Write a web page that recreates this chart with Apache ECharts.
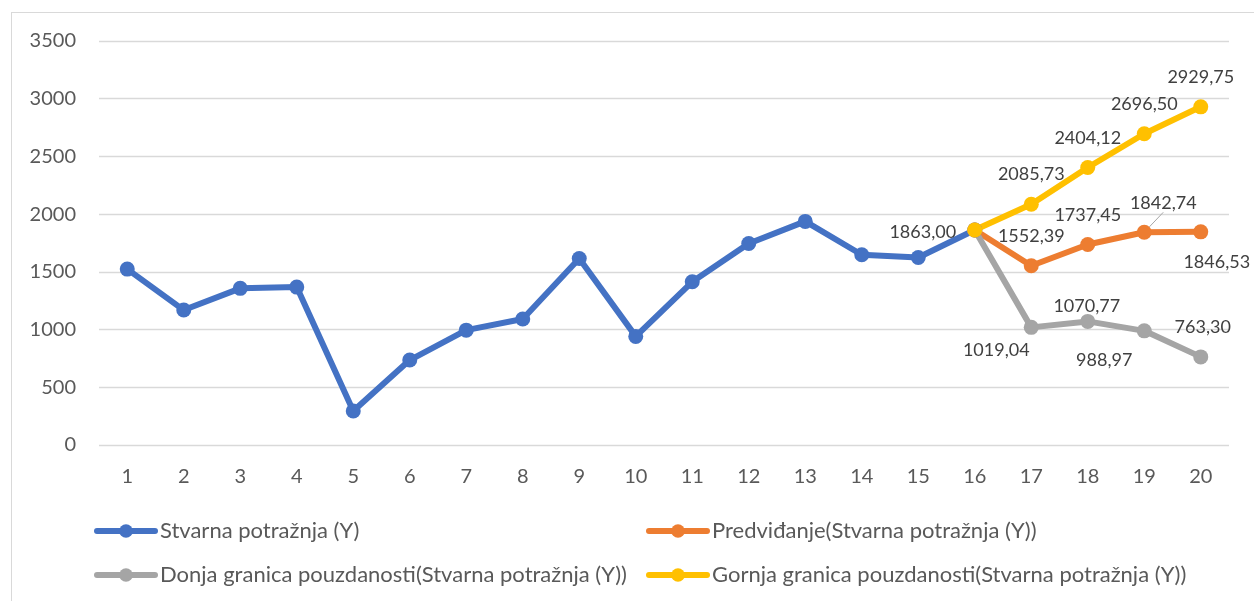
<!DOCTYPE html>
<html>
<head>
<meta charset="utf-8">
<script src="https://cdn.jsdelivr.net/npm/echarts@6/dist/echarts.min.js"></script>
<style>
  html, body { margin: 0; padding: 0; background: #ffffff; overflow: hidden; }
  #chart { position: absolute; left: 0; top: 0; width: 1254px; height: 601px; }
  #frame { position: absolute; left: 11px; top: 12px; width: 1400px; height: 800px;
           border: 1px solid #d9d9d9; box-sizing: border-box; pointer-events: none; }
</style>
</head>
<body>
<div id="frame"></div>
<div id="chart"></div>
<script>
// ---- data ----
const categories = ['1','2','3','4','5','6','7','8','9','10','11','12','13','14','15','16','17','18','19','20'];
const actualDemand = [1524, 1169, 1357, 1368, 294, 736, 995, 1091, 1616, 941, 1414, 1746, 1937, 1648, 1625, 1863, null, null, null, null];
const forecast = [null, null, null, null, null, null, null, null, null, null, null, null, null, null, null, 1863, 1552.39, 1737.45, 1842.74, 1846.53];
const lowerBound = [null, null, null, null, null, null, null, null, null, null, null, null, null, null, null, 1863, 1019.04, 1070.77, 988.97, 763.30];
const upperBound = [null, null, null, null, null, null, null, null, null, null, null, null, null, null, null, 1863, 2085.73, 2404.12, 2696.50, 2929.75];
const seriesNames = [
  'Stvarna potražnja (Y)',
  'Predviđanje(Stvarna potražnja (Y))',
  'Donja granica pouzdanosti(Stvarna potražnja (Y))',
  'Gornja granica pouzdanosti(Stvarna potražnja (Y))'
];
const yTicks = { min: 0, max: 3500, interval: 500 };

// ---- label placement (styling, offsets from the point centre) ----
const labelShift = {
  0: { 15: [-52, 2] },
  1: { 16: [0, -30], 17: [0, -29], 18: [19, -29], 19: [16, 30] },
  2: { 16: [-35, 23], 17: [-1, -15], 18: [-40, 29], 19: [2, -30] },
  3: { 16: [0, -30], 17: [0, -29], 18: [0, -30], 19: [0, -30] }
};
const guideLines = { 1: [18] };

const colors = ['#4472C4', '#ED7D31', '#A5A5A5', '#FFC000'];
const FONT = 'Lato';
const fmt = v => Number(v).toFixed(2).replace('.', ',');

function buildSeries(idx, values) {
  const shifts = labelShift[idx] || {};
  const guides = guideLines[idx] || [];
  return {
    name: seriesNames[idx],
    type: 'line',
    data: values.map((v, i) => {
      const item = { value: v };
      if (shifts[i] && v != null) {
        item.label = { show: true };
        if (guides.indexOf(i) >= 0) item.labelLine = { show: true };
      }
      return item;
    }),
    symbol: 'circle',
    symbolSize: 15,
    showAllSymbol: true,
    connectNulls: false,
    color: colors[idx],
    lineStyle: { width: 6, color: colors[idx], cap: 'round', join: 'round' },
    itemStyle: { color: colors[idx] },
    label: {
      show: false,
      position: 'inside',
      formatter: p => fmt(p.value),
      color: '#404040',
      fontFamily: FONT,
      fontSize: 18
    },
    labelLine: { show: false, lineStyle: { color: '#A6A6A6', width: 1 } },
    labelLayout: function (params) {
      const s = shifts[params.dataIndex];
      if (!s) return {};
      return { dx: s[0], dy: s[1] };
    },
    emphasis: { disabled: true },
    animation: false
  };
}

const legendBase = {
  orient: 'vertical', top: 515, itemGap: 22,
  itemWidth: 58, itemHeight: 17,
  lineStyle: { width: 6 },
  textStyle: { color: '#595959', fontSize: 22, fontFamily: FONT },
  selectedMode: false
};

const chart = echarts.init(document.getElementById('chart'), null, { renderer: 'canvas' });
chart.setOption({
  animation: false,
  textStyle: { fontFamily: FONT },
  grid: { left: 99, right: 25, top: 41, bottom: 156, containLabel: false },
  xAxis: {
    type: 'category',
    data: categories,
    boundaryGap: true,
    axisLine: { show: false },
    axisTick: { show: false },
    axisLabel: { color: '#595959', fontSize: 20, fontFamily: FONT, margin: 22 }
  },
  yAxis: {
    type: 'value',
    min: yTicks.min, max: yTicks.max, interval: yTicks.interval,
    axisLine: { show: false },
    axisTick: { show: false },
    splitLine: { lineStyle: { color: '#d9d9d9', width: 1.3 } },
    axisLabel: { color: '#595959', fontSize: 20, fontFamily: FONT, margin: 23, formatter: v => String(v) }
  },
  legend: [
    Object.assign({}, legendBase, { data: [seriesNames[0], seriesNames[2]], left: 89 }),
    Object.assign({}, legendBase, { data: [seriesNames[1], seriesNames[3]], left: 641 })
  ],
  series: [
    buildSeries(0, actualDemand),
    buildSeries(1, forecast),
    buildSeries(2, lowerBound),
    buildSeries(3, upperBound)
  ]
});
</script>
</body>
</html>
